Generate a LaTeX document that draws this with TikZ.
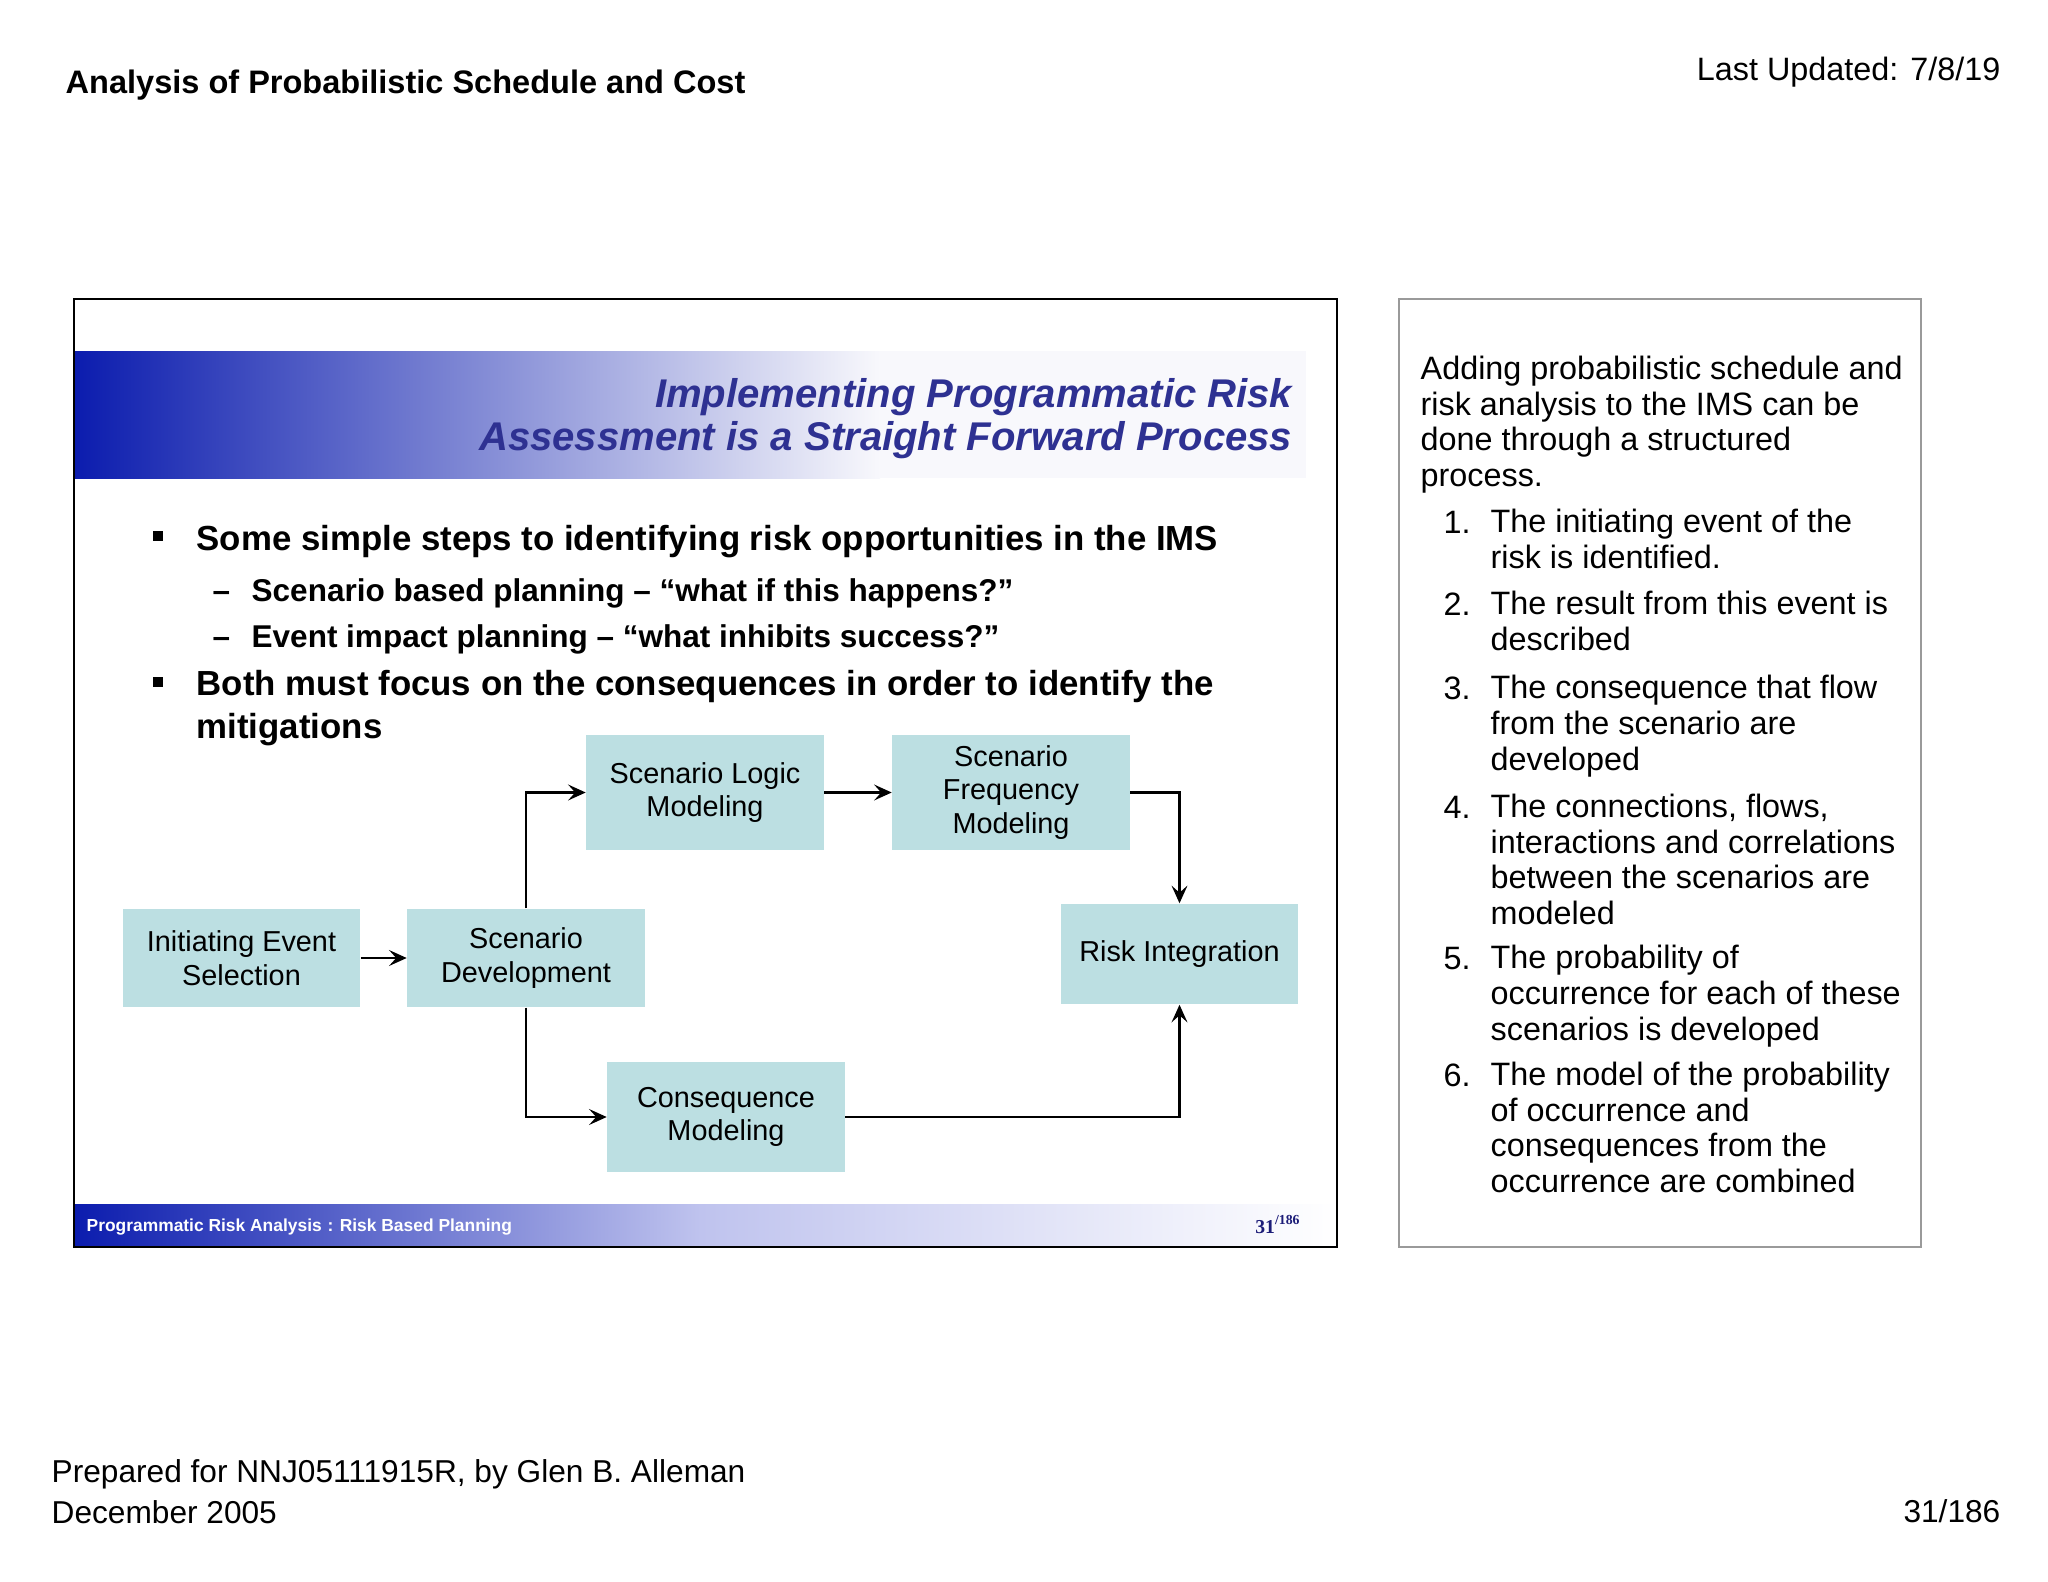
\documentclass[tikz,border=0pt]{standalone}
\usepackage{fontspec}
\setmainfont{Liberation Sans}
\newfontfamily\numfont{Liberation Serif}
\usepackage{tikz}
\usetikzlibrary{arrows.meta,positioning}
\definecolor{slideblue}{HTML}{0B1CAE}
\definecolor{titleblue}{HTML}{2E3192}
\definecolor{boxteal}{HTML}{BCDFE2}
\definecolor{bandpale}{HTML}{BFC3EE}
\definecolor{bandend}{HTML}{F8F8FC}
\definecolor{panelgray}{HTML}{9A9A9A}
\definecolor{numblue}{HTML}{1C1C78}

\begin{document}
\begin{tikzpicture}[x=0.01cm,y=-0.01cm,
  b/.style={draw=none,fill=boxteal,align=center,font=\fontsize{8.2}{9.6}\selectfont,minimum width=2.37cm,inner sep=0pt},
  ar/.style={-{Stealth[length=5pt,width=4.5pt,inset=2pt]},line width=0.7pt},
  txt/.style={anchor=base west,inner sep=0pt,align=left},
  rt/.style={txt,font=\fontsize{9.2}{10.1}\selectfont},
  bl/.style={txt,font=\bfseries\fontsize{9.9}{11.95}\selectfont},
  sb/.style={txt,font=\bfseries\fontsize{8.96}{10.5}\selectfont},
  sq/.style={fill=black,minimum size=0.1cm,inner sep=0pt}]
\useasboundingbox (0,0) rectangle (2048,1582);
\fill[white] (0,0) rectangle (2048,1582);
% page header and footer (multi-line nodes sit on their last baseline)
\node[txt,font=\bfseries\fontsize{9.25}{11}\selectfont] (head) at (65,94) {Analysis of Probabilistic Schedule and Cost};
\node[txt,anchor=base east,font=\fontsize{9.2}{11}\selectfont] (upd) at (2001,81) {Last Updated: 7/8/19};
\node[txt,font=\fontsize{9}{11.4}\selectfont] (prep) at (51,1523) {Prepared for NNJ05111915R, by Glen B. Alleman\\December 2005};
\node[txt,anchor=base east,font=\fontsize{9}{11}\selectfont] (page) at (2001,1522) {31/186};
% slide bands
\shade[left color=slideblue,right color=bandend] (74,351) rectangle (880,478);
\fill[bandend] (880,351) rectangle (1306,478);
\shade[left color=slideblue,right color=bandpale] (74,1204) rectangle (700,1247);
\shade[left color=bandpale,right color=white] (700,1204) rectangle (1337,1247);
\draw[line width=0.6pt] (74,299) rectangle (1337,1247);
\node[anchor=base east,align=right,inner sep=0pt,text=titleblue,font=\bfseries\itshape\fontsize{11.4}{11.95}\selectfont] (title) at (1293,450) {Implementing Programmatic Risk\\Assessment is a Straight Forward Process};
\node[txt,text=white,font=\bfseries\fontsize{4.95}{6}\selectfont] (foot) at (86,1231) {Programmatic Risk Analysis\,\,: Risk Based Planning};
\node[txt,anchor=base east,text=numblue,font=\numfont\bfseries\fontsize{5.6}{6}\selectfont] (slideno) at (1302,1233) {31\textsuperscript{/186}};
% bullets
\node[sq] (sq1) at (158,536) {};
\node[bl] (b1) at (196,550) {Some simple steps to identifying risk opportunities in the IMS};
\node[sb] (d1) at (212,601) {–};
\node[sb] (s1) at (251,601) {Scenario based planning – “what if this happens?”};
\node[sb] (d2) at (212,647) {–};
\node[sb] (s2) at (251,647) {Event impact planning – “what inhibits success?”};
\node[sq] (sq2) at (158,682) {};
\node[bl] (b2) at (196,738) {Both must focus on the consequences in order to identify the\\mitigations};
% process boxes
\node[b,minimum height=0.98cm] (init) at (241.5,958) {Initiating Event\\Selection};
\node[b,minimum height=0.98cm] (scdev) at (526,958) {Scenario\\Development};
\node[b,minimum height=1.15cm] (logic) at (705,792.5) {Scenario Logic\\Modeling};
\node[b,minimum height=1.15cm] (freq) at (1011,792.5) {Scenario\\Frequency\\Modeling};
\node[b,minimum height=1.0cm] (risk) at (1179.5,954) {Risk Integration};
\node[b,minimum height=1.1cm] (cons) at (726,1117) {Consequence\\Modeling};
\draw[ar] (init)--(scdev);
\draw[ar] (scdev.north) |- (logic.west);
\draw[ar] (logic)--(freq);
\draw[ar] (freq.east) -| (risk.north);
\draw[ar] (scdev.south) |- (cons.west);
\draw[ar] (cons.east) -| (risk.south);
% notes panel
\draw[panelgray,line width=0.5pt] (1399,299) rectangle (1921,1247);
\node[rt] (intro) at (1420,486.5) {Adding probabilistic schedule and\\risk analysis to the IMS can be\\done through a structured\\process.};
\foreach \n/\yy in {1/533,2/615,3/699,4/818,5/969,6/1086}
  \node[rt] (num\n) at (1443,\yy) {\n.};
\node[rt] (it1) at (1490,568.5) {The initiating event of the\\risk is identified.};
\node[rt] (it2) at (1490,650.5) {The result from this event is\\described};
\node[rt] (it3) at (1490,770) {The consequence that flow\\from the scenario are\\developed};
\node[rt] (it4) at (1490,924.5) {The connections, flows,\\interactions and correlations\\between the scenarios are\\modeled};
\node[rt] (it5) at (1490,1040) {The probability of\\occurrence for each of these\\scenarios is developed};
\node[rt] (it6) at (1490,1192.5) {The model of the probability\\of occurrence and\\consequences from the\\occurrence are combined};
\end{tikzpicture}
\end{document}
